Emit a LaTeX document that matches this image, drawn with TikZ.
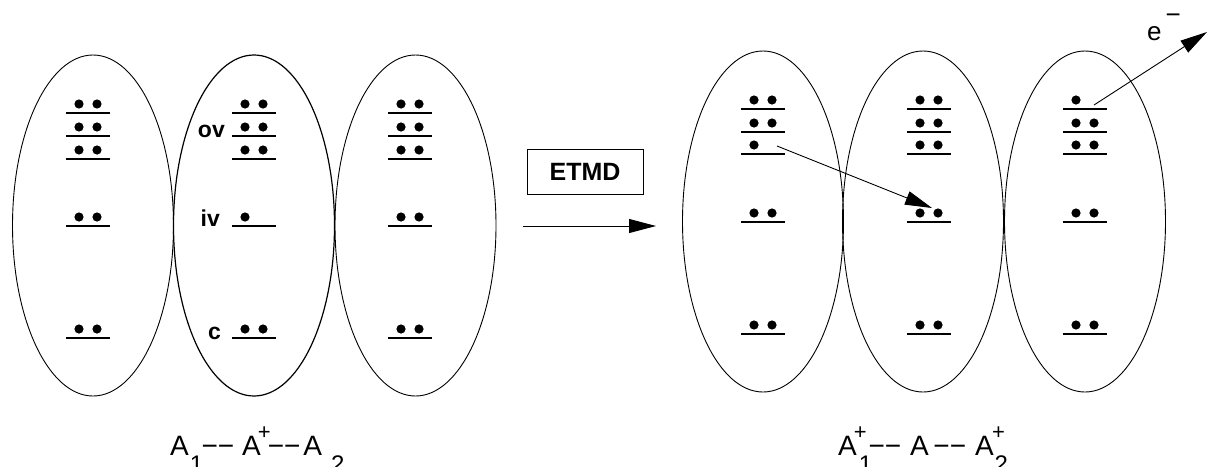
\documentclass[tikz,border=0pt]{standalone}
\usepackage{fontspec}
\setmainfont{Liberation Sans}
\usetikzlibrary{shapes.geometric,arrows.meta}

% one orbital level: left end x, line y, number of electrons
\newcommand\orb[3]{%
  \draw[lvl] (#1,#2) -- ++(44,0);
  \ifnum#3>0 \fill (#1+13,#2-9) circle (4.6);\fi
  \ifnum#3>1 \fill (#1+31,#2-9) circle (4.6);\fi}
% raised / lowered charge and index marks in the formulas
\newcommand\chg[1]{\raisebox{16pt}{\fontsize{22}{22}\selectfont #1}}
\newcommand\idx[1]{\raisebox{-17pt}{\fontsize{24}{24}\selectfont #1}}
\newcommand\twodash{−−}

\begin{document}
\begin{tikzpicture}[x=1pt,y=-1pt,
  atom/.style={draw, ellipse, minimum width=161pt, minimum height=341pt,
    inner sep=0pt, line width=0.9pt},
  lvl/.style={line width=1.3pt},
  tag/.style={font=\fontsize{23}{23}\selectfont\bfseries, anchor=base east, inner sep=0pt},
  formula/.style={font=\fontsize{28}{28}\selectfont, anchor=base west, inner sep=0pt},
  jump/.style={-{Triangle[length=27pt,width=14pt]}, line width=0.9pt}]
\useasboundingbox (0,0) rectangle (1207,466);

% ---- before: A1 -- A+ -- A2 ----
\node[atom] (L1) at (93,225.5) {};
\node[atom, line width=1.2pt] (L2) at (254,225.5) {};
\node[atom] (L3) at (415.5,225.5) {};

\foreach \x in {66,388}{
  \orb{\x}{113}{2}\orb{\x}{136}{2}\orb{\x}{159}{2}\orb{\x}{226}{2}\orb{\x}{338}{2}}
\orb{232}{113}{2}\orb{232}{136}{2}\orb{232}{159}{2}\orb{232}{226}{1}\orb{232}{338}{2}

\node[tag] (ov) at (225,137) {ov};
\node[tag] (iv) at (220,226) {iv};
\node[tag] (c)  at (221,339) {c};

\node[formula] (before) at (170,455)
  {A\kern1pt\idx{1}\kern-1.7pt\twodash\kern8pt A\kern-3pt\chg{+}\kern-3pt\twodash\kern3pt A\kern9pt\idx{2}};

% ---- process ----
\node[draw, line width=1pt, minimum width=116pt, minimum height=45pt, inner sep=0pt,
  font=\fontsize{25}{25}\selectfont\bfseries] (etmd) at (585,171.5) {ETMD};
\coordinate (pfrom) at (523,226);
\coordinate (pto) at (656,226);
\draw[jump] (pfrom) -- (pto);

% ---- after: A1+ -- A -- A2+ ----
\node[atom] (R1) at (763,221.5) {};
\node[atom] (R2) at (923,221.5) {};
\node[atom] (R3) at (1085,221.5) {};

\orb{741}{109}{2}\orb{741}{132}{2}\orb{741}{154}{1}\orb{741}{222}{2}\orb{741}{334}{2}
\orb{907}{109}{2}\orb{907}{132}{2}\orb{907}{154}{2}\orb{907}{222}{2}\orb{907}{334}{2}
\orb{1063}{109}{1}\orb{1063}{132}{2}\orb{1063}{154}{2}\orb{1063}{222}{2}\orb{1063}{334}{2}

\coordinate (donor) at (777,146);
\coordinate (hole) at (932,208);
\draw[jump] (donor) -- (hole);

\coordinate (emit) at (1094,105);
\coordinate (away) at (1207,32);
\draw[jump] (emit) -- (away);
\node[anchor=base west, inner sep=0pt, font=\fontsize{26}{26}\selectfont] (elec) at (1147,40)
  {e\kern4pt\raisebox{17pt}{−}};

\node[formula] (after) at (838,455)
  {A\rlap{\kern-3pt\chg{+}}\kern2pt\idx{1}\kern-3.7pt\twodash\kern9pt A\kern4.6pt\twodash\kern9pt
   A\rlap{\kern-1.7pt\chg{+}}\kern0.8pt\idx{2}};
\end{tikzpicture}
\end{document}
